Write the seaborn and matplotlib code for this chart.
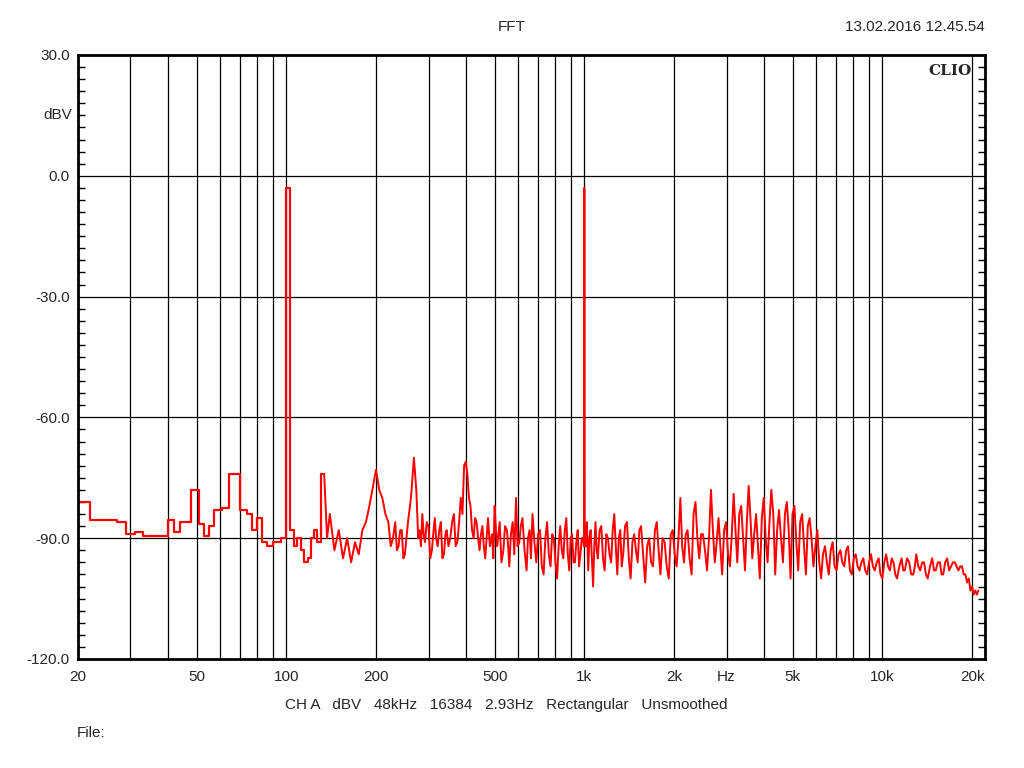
import numpy as np
import pandas as pd
import matplotlib
matplotlib.use("Agg")
import matplotlib.pyplot as plt
import seaborn as sns
from matplotlib.ticker import FixedLocator, NullFormatter, NullLocator

# low-frequency bins (drawn as steps)
low_freq = [20, 22, 27, 29, 31, 33, 40, 42, 44, 48, 51, 53, 55, 57, 61, 64, 70,
            74, 77, 80, 83, 86, 90, 96, 100, 103, 106, 109, 112, 115, 118, 121,
            124, 127, 131, 134]
low_db = [-81, -85.5, -86, -89, -88.5, -89.5, -85.5, -88.5, -86, -78, -86.5,
          -89.5, -87, -83, -82.5, -74, -83, -84, -88, -85, -91, -92, -91, -90,
          -3, -88, -92, -90, -93, -96, -95, -90, -88, -91, -74, -74]

# 134 Hz .. 1 kHz
mid_freq = [134, 137, 140, 145, 150, 155, 160, 165, 170, 175, 180, 185, 190, 200,
            205, 210, 215, 220, 224, 228, 232, 235, 238, 241, 244, 247, 250, 253,
            256, 262, 268, 273, 277, 280, 283, 286, 289, 292, 296, 300, 304, 308,
            312, 315, 318, 322, 326, 330, 334, 338, 342, 345, 350, 355, 360, 365,
            370, 375, 380, 385, 390, 395, 400, 405, 410, 415, 420, 425, 430, 435,
            440, 445, 450, 455, 460, 465, 470, 475, 482, 490, 495, 500, 505, 510,
            515, 520, 527, 535, 542, 550, 555, 560, 567, 575, 582, 590, 597, 605,
            612, 620, 630, 640, 647, 655, 662, 670, 680, 690, 700, 710, 720, 730,
            740, 750, 760, 770, 780, 790, 800, 810, 820, 830, 840, 850, 860, 870,
            880, 890, 900, 910, 920, 930, 940, 950, 960, 970, 980, 990, 997]
mid_db = [-74, -90, -84, -93, -88, -95, -90, -96, -91, -94, -88, -86, -82, -73,
          -78, -80, -84, -86, -92, -90, -86, -93, -92, -88, -88, -95, -94, -90,
          -86, -80, -70, -78, -90, -88, -92, -84, -89, -91, -86, -87, -95, -93,
          -88, -85, -90, -92, -88, -86, -95, -94, -89, -88, -92, -90, -86, -84,
          -92, -91, -86, -80, -84, -72, -71, -74, -80, -82, -88, -90, -85, -86,
          -90, -93, -89, -87, -92, -95, -90, -85, -92, -89, -95, -82, -88, -92,
          -89, -86, -96, -93, -87, -88, -92, -97, -89, -86, -94, -80, -92, -91,
          -87, -85, -93, -98, -90, -88, -95, -84, -91, -96, -89, -88, -97, -99,
          -90, -86, -94, -97, -89, -90, -96, -100, -92, -87, -93, -95, -88, -85,
          -94, -98, -90, -89, -96, -96, -91, -88, -97, -94, -90, -90, -92]

# 1 kHz test tone
tone_freq = [1000]
tone_db = [-3]

# 1 kHz .. 22 kHz
high_freq = [1003, 1010, 1020, 1030, 1040, 1050, 1060, 1070, 1080, 1090,
             1100, 1110, 1125, 1140, 1155, 1170, 1185, 1200, 1215, 1230, 1245,
             1260, 1275, 1290, 1305, 1320, 1335, 1350, 1370, 1390, 1410, 1430,
             1450, 1470, 1490, 1510, 1530, 1550, 1575, 1600, 1625, 1650, 1675,
             1700, 1725, 1750, 1775, 1800, 1830, 1860, 1890, 1920, 1950, 1980,
             2010, 2040, 2070, 2100, 2130, 2160, 2190, 2220, 2255, 2290, 2325,
             2360, 2395, 2430, 2465, 2500, 2540, 2580, 2620, 2660, 2700, 2740,
             2780, 2820, 2860, 2900, 2945, 2990, 3035, 3080, 3125, 3170, 3215,
             3260, 3310, 3360, 3410, 3460, 3510, 3560, 3610, 3660, 3715, 3770,
             3825, 3880, 3940, 4000, 4060, 4120, 4180, 4240, 4305, 4370, 4435,
             4500, 4570, 4640, 4710, 4780, 4850, 4920, 4995, 5070, 5145, 5220,
             5300, 5380, 5460, 5540, 5620, 5700, 5785, 5870, 5960, 6050, 6140,
             6230, 6320, 6420, 6515, 6610, 6710, 6810, 6915, 7020, 7125, 7230,
             7340, 7450, 7560, 7670, 7785, 7900, 8020, 8140, 8260, 8380, 8505,
             8630, 8760, 8890, 9025, 9160, 9295, 9430, 9575, 9720, 9860, 10000,
             10150, 10300, 10450, 10600, 10750, 10900, 11050, 11200, 11400, 11600,
             11750, 11900, 12100, 12300, 12500, 12700, 12850, 13000, 13200, 13400,
             13600, 13800, 14000, 14200, 14450, 14700, 14900, 15100, 15350, 15600,
             15800, 16000, 16250, 16500, 16750, 17000, 17250, 17500, 17750, 18000,
             18250, 18500, 18750, 19000, 19250, 19500, 19750, 20000, 20250, 20500,
             20750, 21000, 21500, 22000]
high_db = [-92, -92, -86, -98, -90, -88, -95, -102, -92, -86, -93, -95,
           -88, -87, -95, -98, -89, -90, -94, -96, -88, -84, -92, -99, -90,
           -88, -97, -94, -87, -86, -95, -100, -91, -89, -93, -96, -88, -87,
           -94, -101, -92, -90, -96, -97, -88, -86, -93, -99, -90, -91, -97,
           -100, -89, -88, -94, -97, -90, -80, -92, -96, -89, -88, -95, -99,
           -84, -81, -90, -95, -89, -89, -93, -98, -90, -78, -88, -96, -91,
           -85, -92, -99, -88, -86, -94, -97, -89, -79, -88, -96, -84, -82,
           -90, -98, -86, -77, -85, -95, -89, -84, -92, -100, -85, -80, -90,
           -96, -86, -78, -84, -99, -88, -83, -90, -96, -84, -81, -88, -100,
           -84, -82, -91, -98, -86, -84, -92, -99, -87, -85, -90, -97, -92,
           -88, -96, -100, -94, -92, -96, -99, -93, -91, -97, -98, -94, -93,
           -96, -97, -93, -92, -98, -99, -95, -94, -97, -98, -96, -95, -98,
           -99, -96, -94, -97, -98, -96, -95, -99, -100, -96, -94, -97, -98,
           -95, -96, -99, -100, -97, -95, -98, -98, -95, -96, -99, -99, -97,
           -94, -97, -98, -96, -96, -99, -100, -97, -95, -98, -98, -96, -96,
           -99, -99, -96, -95, -98, -97, -96, -96, -97, -98, -97, -97, -99,
           -99, -101, -100, -103, -102, -104, -103, -104, -103]

x_major = [20, 50, 100, 200, 500, 1000, 2000, 3000, 5000, 10000, 20000]
x_labels = ["20", "50", "100", "200", "500", "1k", "2k", "Hz", "5k", "10k", "20k"]
y_major = [-120, -90, -60, -30, 0, 30]


def pair(freq, db):
    # the hand-read lists may differ by a point or two at the end
    n = min(len(freq), len(db))
    return pd.DataFrame({"f": freq[:n], "db": db[:n]})


sns.set_theme(style="white")
plt.rcParams['font.family'] = ['Liberation Sans', 'DejaVu Sans']

fig = plt.figure(figsize=(10.24, 7.68), dpi=100)
ax = fig.add_axes([78 / 1024, 109 / 768, 907 / 1024, 604 / 768])

red = "#ff0000"
low_df = pair(low_freq, low_db)
high_df = pd.concat([pair(mid_freq, mid_db), pair(tone_freq, tone_db),
                     pair(high_freq, high_db)], ignore_index=True)
sns.lineplot(data=low_df, x="f", y="db", ax=ax, color=red, lw=1.6,
             drawstyle="steps-post", sort=False, estimator=None)
sns.lineplot(data=high_df, x="f", y="db", ax=ax, color=red, lw=1.4,
             sort=False, estimator=None)

ax.set_xscale("log")
ax.set_xlim(20, 22100)
ax.set_ylim(-120, 30)

# grid lines at every decade step
grid_x = [m * 10 ** e for e in range(1, 5) for m in range(1, 10)]
grid_x = [g for g in grid_x if 20 < g <= 20000]
for g in grid_x:
    ax.axvline(g, color="black", lw=0.9, zorder=0)
for g in y_major[1:-1]:
    ax.axhline(g, color="black", lw=0.9, zorder=0)

ax.xaxis.set_major_locator(FixedLocator(x_major))
ax.xaxis.set_minor_locator(NullLocator())
ax.set_xticklabels(x_labels)
ax.xaxis.set_minor_formatter(NullFormatter())
ax.set_yticks(y_major)
ax.set_yticklabels([f"{v:.1f}" for v in y_major])
ax.yaxis.set_minor_locator(FixedLocator(list(range(-120, 31, 3))))
ax.tick_params(axis="x", length=0, pad=8, labelsize=11)
ax.tick_params(axis="y", which="major", length=0, pad=6, labelsize=11)
ax.tick_params(axis="y", which="minor", direction="in", length=5, width=1,
               left=True, right=True, color="black")
ax.set_xlabel("")
ax.set_ylabel("")
for s in ax.spines.values():
    s.set_color("black")
    s.set_linewidth(2)

ax.text(-0.006, 15, "dBV", transform=ax.get_yaxis_transform(), ha="right",
        va="center", fontsize=11)
ax.text(0.985, 0.985, "CLIO", transform=ax.transAxes, ha="right", va="top",
        fontsize=11, fontweight="bold", family="DejaVu Serif")
fig.text(512 / 1024, 1 - 27 / 768, "FFT", ha="center", va="center", fontsize=11)
fig.text(985 / 1024, 1 - 27 / 768, "13.02.2016 12.45.54", ha="right",
         va="center", fontsize=11)
fig.text(506 / 1024, 1 - 705 / 768,
         "CH A   dBV   48kHz   16384   2.93Hz   Rectangular   Unsmoothed",
         ha="center", va="center", fontsize=11)
fig.text(77 / 1024, 1 - 733 / 768, "File:", ha="left", va="center", fontsize=11)

fig.savefig("out.png", dpi=100)
